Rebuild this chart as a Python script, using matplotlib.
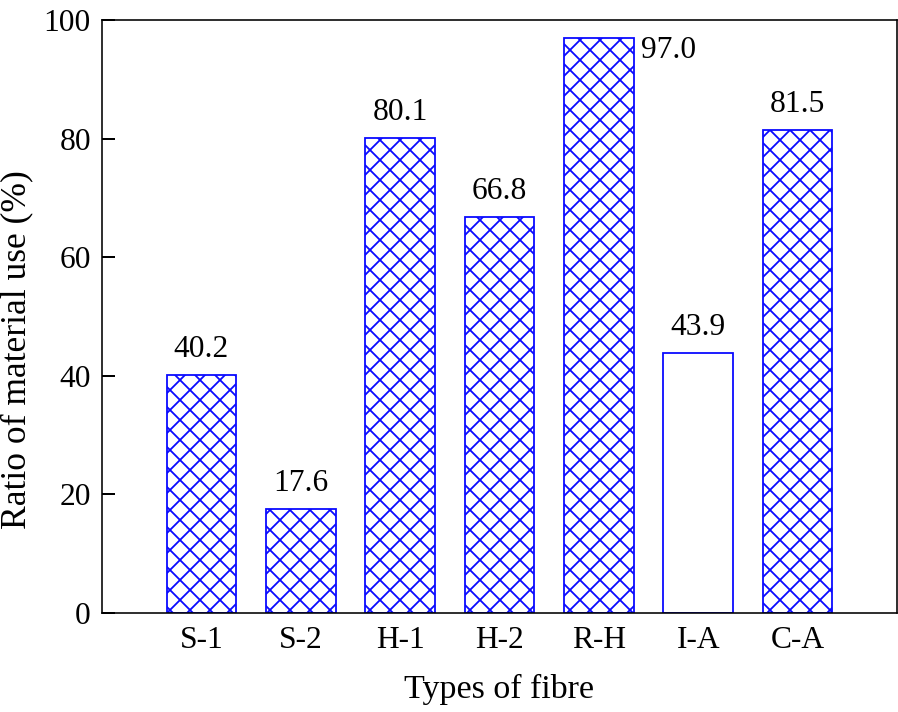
import matplotlib
matplotlib.use("Agg")
import matplotlib.pyplot as plt

categories = ["S-1", "S-2", "H-1", "H-2", "R-H", "I-A", "C-A"]
values = [40.2, 17.6, 80.1, 66.8, 97.0, 43.9, 81.5]
hatches = ["x", "x", "x", "x", "x", "", "x"]
yticks = [0, 20, 40, 60, 80, 100]

DPI = 60
W, H = 898, 712
def px(p):
    return p * 72.0 / DPI

plt.rcParams["font.family"] = ["Liberation Serif", "DejaVu Serif"]
plt.rcParams["hatch.linewidth"] = px(1.8)

fig = plt.figure(figsize=(W / DPI, H / DPI), dpi=DPI)
ax = fig.add_axes([102 / W, 1 - 613 / H, (897 - 102) / W, (613 - 20) / H])

fs = px(31.5)
xpos = list(range(len(categories)))
bars = ax.bar(xpos, values, width=0.7, color="white", edgecolor="#0a0aff",
              linewidth=px(1.8), zorder=2)
for b, h in zip(bars, hatches):
    b.set_hatch(h)

for i, v in enumerate(values):
    if v > 90:
        ax.annotate(f"{v:.1f}", xy=(i + 0.35, v), xytext=(7, -20),
                    textcoords="offset pixels", ha="left", va="baseline",
                    fontsize=fs)
    else:
        ax.annotate(f"{v:.1f}", xy=(i, v), xytext=(0, 18),
                    textcoords="offset pixels", ha="center", va="baseline",
                    fontsize=fs)

ax.set_xlim(-1, 7)
ax.set_ylim(0, 100)
ax.set_yticks(yticks)
ax.set_xticks(xpos)
ax.set_xticklabels(categories)
ax.tick_params(axis="y", direction="in", length=px(13), width=px(2),
               labelsize=fs, pad=px(11))
ax.tick_params(axis="x", length=0, labelsize=fs, pad=px(13))
for s in ax.spines.values():
    s.set_linewidth(px(1.6))

fig.text(499.5 / W, 1 - 698 / H, "Types of fibre", fontsize=px(34),
         ha="center", va="baseline")
fig.text(17 / W, 1 - 350 / H, "Ratio of material use (%)", fontsize=px(35.5),
         ha="center", va="center", rotation=90)

fig.savefig("out.png", dpi=DPI)
